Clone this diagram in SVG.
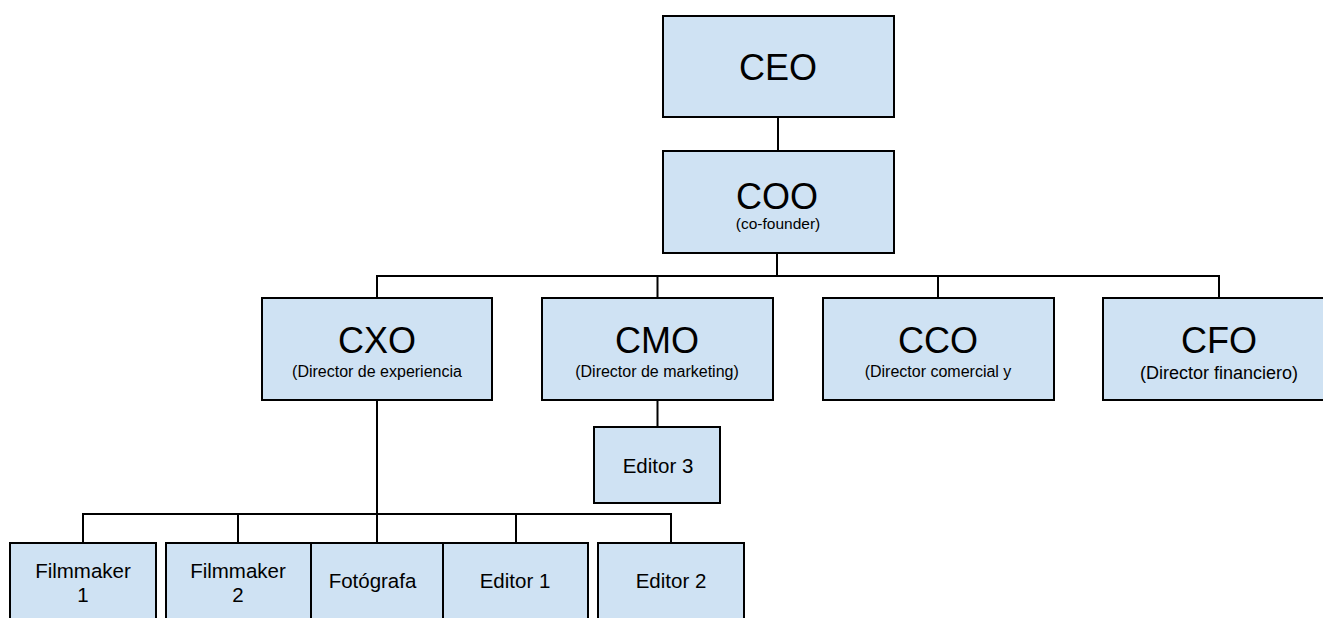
<svg xmlns="http://www.w3.org/2000/svg" width="1323" height="618" viewBox="0 0 1323 618">
<style>
.box{fill:#cfe2f3;stroke:#000;stroke-width:2}
.ln{fill:none;stroke:#000;stroke-width:2}
text{font-family:"Liberation Sans",Arial,sans-serif;fill:#000;text-anchor:middle}
.big{font-size:36px}
.sub{font-size:16px}
.sm{font-size:20.5px}
</style>
<rect width="1323" height="618" fill="#fff"/>
<g id="connectors">
<path class="ln" d="M778 117V151"/>
<path class="ln" d="M777 253V276"/>
<path class="ln" d="M377 298V276H1219V298"/>
<path class="ln" d="M657.5 276V298"/>
<path class="ln" d="M938 276V298"/>
<path class="ln" d="M377 400V543"/>
<path class="ln" d="M657.5 400V427"/>
<path class="ln" d="M83 543V514H671V543"/>
<path class="ln" d="M238 514V543"/>
<path class="ln" d="M516 514V543"/>
</g>
<g id="ceo"><rect class="box" x="663" y="16" width="231" height="101"/><text class="big" x="778" y="80">CEO</text></g>
<g id="coo"><rect class="box" x="663" y="151" width="231" height="102"/><text class="big" x="777" y="209">COO</text><text style="font-size:15.5px" x="778" y="229">(co-founder)</text></g>
<g id="cxo"><rect class="box" x="262" y="298" width="230" height="102"/><text class="big" x="377" y="353">CXO</text><text class="sub" x="377" y="377">(Director de experiencia</text></g>
<g id="cmo"><rect class="box" x="542" y="298" width="231" height="102"/><text class="big" x="657" y="353">CMO</text><text class="sub" x="657" y="377">(Director de marketing)</text></g>
<g id="cco"><rect class="box" x="823" y="298" width="231" height="102"/><text class="big" x="938" y="353">CCO</text><text class="sub" x="938" y="377">(Director comercial y</text></g>
<g id="cfo"><rect class="box" x="1103" y="298" width="232" height="102"/><text class="big" x="1219" y="353">CFO</text><text style="font-size:18px" x="1219" y="379">(Director financiero)</text></g>
<g id="editor3"><rect class="box" x="594" y="427" width="126" height="76"/><text class="sm" x="658" y="473">Editor 3</text></g>
<g id="filmmaker1"><rect class="box" x="10" y="543" width="146" height="100"/><text class="sm" x="83" y="578">Filmmaker</text><text class="sm" x="83" y="602">1</text></g>
<g id="filmmaker2"><rect class="box" x="166" y="543" width="145" height="100"/><text class="sm" x="238" y="578">Filmmaker</text><text class="sm" x="238" y="602">2</text></g>
<g id="fotografa"><rect class="box" x="311" y="543" width="132" height="100"/><text class="sm" x="372.5" y="588">Fotógrafa</text></g>
<g id="editor1"><rect class="box" x="443" y="543" width="145" height="100"/><text class="sm" x="515" y="588">Editor 1</text></g>
<g id="editor2"><rect class="box" x="598" y="543" width="146" height="100"/><text class="sm" x="671" y="588">Editor 2</text></g>
</svg>
